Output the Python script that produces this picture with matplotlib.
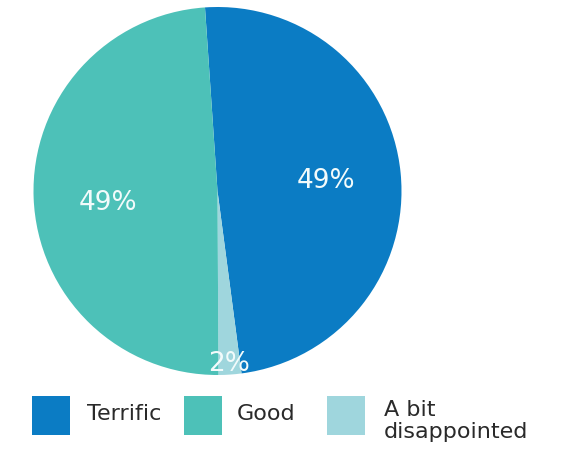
import matplotlib
matplotlib.use("Agg")
import matplotlib.pyplot as plt
from matplotlib.patches import Rectangle

labels = ['Terrific', 'Good', 'A bit\ndisappointed']
shares = [49, 49, 2]
pct_text = ['49%', '49%', '2%']
colors = ['#0b7cc4', '#4dc1b8', '#9fd6dd']

plt.rcParams['font.family'] = ['DejaVu Sans']

fig = plt.figure(figsize=(5.61, 4.52), dpi=100)
W, H = 561, 452
cx, cy, r = 217.5, 192, 184
ax = fig.add_axes([(cx - r) / W, (H - cy - r) / H, 2 * r / W, 2 * r / H])

# pie order: Terrific clockwise from top, then the small slice, then Good
order = [0, 2, 1]
wedges, _ = ax.pie([shares[i] for i in order], colors=[colors[i] for i in order],
                   startangle=93.9, counterclock=False, radius=1,
                   wedgeprops=dict(linewidth=0))
ax.set_xlim(-1, 1)
ax.set_ylim(-1, 1)
ax.set_aspect('auto')
ax.axis('off')

# percentage labels
label_pos = {0: (0.587, 0.06), 1: (-0.595, -0.0625), 2: (0.0625, -0.935)}
for i, (x, y) in label_pos.items():
    ax.text(x, y, pct_text[i], color='#f2fbfb', fontsize=19, ha='center', va='center')

# legend
box_x = [32, 184, 327]
text_x = [87, 237, 384]
text_y = [414, 414, 421]
for i in range(3):
    fig.add_artist(Rectangle((box_x[i] / W, (H - 436) / H), 38 / W, 39 / H,
                             transform=fig.transFigure, color=colors[i], lw=0))
    fig.text(text_x[i] / W, (H - text_y[i]) / H, labels[i], fontsize=16, color='#2a2a2a',
             ha='left', va='center', linespacing=1.12)

fig.savefig('out.png', dpi=100)
